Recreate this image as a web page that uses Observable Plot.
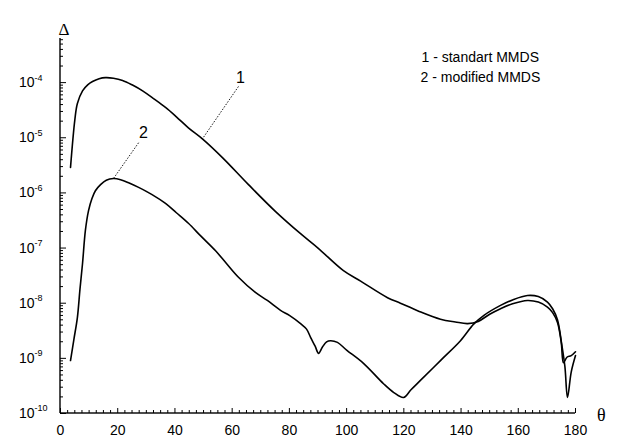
<!DOCTYPE html>
<html>
<head>
<meta charset="utf-8">
<script src="https://cdn.jsdelivr.net/npm/d3@7"></script>
<script src="https://cdn.jsdelivr.net/npm/@observablehq/plot@0.6"></script>
<style>
  html, body { margin: 0; padding: 0; background: #fff; }
  #chart svg { display: block; }
</style>
</head>
<body>
<div id="chart"></div>
<script>
// Scattering angle θ (degrees) and log10 of the error Δ for each method.
const theta1 = [3.5, 5, 5.9, 7.7, 9.5, 11.2, 13.5, 15.7, 18.5, 21.7, 25, 28.7, 32.5, 36.7, 40.5, 44.7,
  49.6, 56.6, 65.7, 75, 83.9, 90, 98.9, 104.9, 114.3, 118.8, 125, 132.8, 138, 142.3, 146, 150, 153.8,
  158, 163.2, 167, 170.2, 172, 173.7, 175, 175.8, 177, 178.5, 180];
const logDelta1 = [-5.54, -4.68, -4.38, -4.15, -4.04, -3.98, -3.93, -3.91, -3.92, -3.96, -4.04, -4.15,
  -4.29, -4.45, -4.62, -4.82, -5.02, -5.36, -5.85, -6.33, -6.74, -7.0, -7.41, -7.6, -7.9, -8.0, -8.14,
  -8.29, -8.34, -8.37, -8.33, -8.2, -8.1, -8.01, -7.95, -7.98, -8.07, -8.17, -8.35, -8.7, -9.08, -8.98,
  -8.95, -8.88];

const theta2 = [3.5, 4.7, 5.9, 6.8, 7.7, 8.7, 9.8, 11, 12.2, 14, 16, 18.5, 21, 24, 27.3, 32, 36.7, 40.5,
  44.7, 49, 54.2, 58, 62.2, 68, 72.3, 76.9, 80, 83.9, 86, 87.4, 89, 90.2, 91.5, 93, 94.4, 96.8, 100,
  105.9, 112.9, 116.5, 119.9, 122.5, 125.8, 132.8, 139.8, 144.4, 148, 153.8, 158, 163.2, 167, 170.2,
  172, 173.7, 175.2, 176.3, 177.2, 178.5, 180];
const logDelta2 = [-9.04, -8.65, -8.26, -7.75, -7.28, -6.68, -6.32, -6.1, -5.96, -5.85, -5.77, -5.74,
  -5.76, -5.82, -5.9, -6.03, -6.19, -6.36, -6.55, -6.78, -7.05, -7.28, -7.53, -7.8, -7.95, -8.13, -8.22,
  -8.37, -8.47, -8.62, -8.78, -8.91, -8.8, -8.7, -8.68, -8.71, -8.85, -9.09, -9.46, -9.62, -9.71, -9.57,
  -9.4, -9.04, -8.68, -8.38, -8.22, -8.04, -7.94, -7.86, -7.88, -7.98, -8.1, -8.3, -8.75, -9.15, -9.71,
  -9.25, -8.95];

// Axis ticks
const xTicks = [0, 20, 40, 60, 80, 100, 120, 140, 160, 180];
const yExponents = [-4, -5, -6, -7, -8, -9, -10];

// Curve labels with their leader lines (θ, log10 Δ)
const curveLabels = ["1", "2"];
const labelTheta = [62.9, 29];
const labelLog = [-3.91, -4.91];
const leaderFromTheta = [62.2, 27.3];
const leaderFromLog = [-4.07, -5.09];
const leaderToTheta = [49.6, 18.5];
const leaderToLog = [-5.02, -5.74];

const legendLines = ["1 - standart MMDS", "2 - modified MMDS"];

const series1 = theta1.map((t, i) => ({theta: t, delta: 10 ** logDelta1[i]}));
const series2 = theta2.map((t, i) => ({theta: t, delta: 10 ** logDelta2[i]}));
const labels = curveLabels.map((s, i) => ({text: s, theta: labelTheta[i], delta: 10 ** labelLog[i]}));
const leaders = curveLabels.map((s, i) => ({
  x1: leaderFromTheta[i], y1: 10 ** leaderFromLog[i],
  x2: leaderToTheta[i], y2: 10 ** leaderToLog[i]
}));
const decades = yExponents.map(e => ({e, v: 10 ** e}));

const yMin = 1e-10, yMax = 10 ** -3.2;
const font = "'Liberation Sans', Arial, sans-serif";

// minor tick positions
const xMinor = d3.range(0, 180.01, 2.5).filter(v => v % 20 !== 0);
const yMinor = [];
for (let e = -10; e <= -4; e++) for (let m = 2; m <= 9; m++) if (m * 10 ** e < yMax) yMinor.push(m * 10 ** e);
const yMajor = decades.map(d => d.v);

const chart = Plot.plot({
  width: 619,
  height: 439,
  marginLeft: 60,
  marginRight: 44,
  marginTop: 38,
  marginBottom: 26,
  style: {background: "#fff", fontFamily: font},
  x: {domain: [0, 180], axis: null},
  y: {type: "log", domain: [yMin, yMax], axis: null},
  marks: [
    // axis lines as thin filled bars
    Plot.rect([0], {x1: 0, x2: 0, y1: yMin, y2: yMax, insetLeft: -0.7, insetRight: -0.7, fill: "#000"}),
    Plot.rect([0], {x1: 0, x2: 180, y1: yMin, y2: yMin, insetTop: -0.7, insetBottom: -0.7, fill: "#000"}),
    // ticks pointing into the plot area
    Plot.axisX(xMinor, {anchor: "bottom", tickSize: 3, dy: -3, tickFormat: () => "", label: null, stroke: "#000"}),
    Plot.axisX(xTicks, {anchor: "bottom", tickSize: 5, dy: -5, tickFormat: () => "", label: null, stroke: "#000"}),
    Plot.axisY(yMinor, {anchor: "left", tickSize: 3, dx: 3, tickFormat: () => "", label: null, stroke: "#000"}),
    Plot.axisY(yMajor, {anchor: "left", tickSize: 6, dx: 6, tickFormat: () => "", label: null, stroke: "#000"}),
    // y tick labels: "10" with a raised exponent
    Plot.text(decades, {x: 0, y: "v", text: () => "10", textAnchor: "end", dx: -26, fontSize: 14, fill: "#000"}),
    Plot.text(decades, {x: 0, y: "v", text: d => String(d.e), textAnchor: "start", dx: -26, dy: -5, fontSize: 9, fill: "#000"}),
    // x tick labels
    Plot.text(xTicks, {x: d => d, y: () => yMin, text: d => String(d), dy: 17, fontSize: 14, fill: "#000"}),
    // axis symbols
    Plot.text(["Δ"], {frameAnchor: "top-left", dx: -2, dy: -16, fontSize: 17, fontFamily: "'Liberation Serif', serif", fill: "#000"}),
    Plot.text(["θ"], {frameAnchor: "bottom-right", dx: 30, dy: 7, fontSize: 18, fontFamily: "'Liberation Serif', serif", fill: "#000"}),
    // legend
    Plot.text([legendLines[0]], {frameAnchor: "top-left", textAnchor: "start", dx: 361, dy: 14, fontSize: 14, fill: "#000"}),
    Plot.text([legendLines[1]], {frameAnchor: "top-left", textAnchor: "start", dx: 360, dy: 34, fontSize: 14, fill: "#000"}),
    // curve labels and leaders
    Plot.link(leaders, {x1: "x1", y1: "y1", x2: "x2", y2: "y2", stroke: "#000", strokeWidth: 0.9, strokeDasharray: "1.5,1.5"}),
    Plot.text(labels, {x: "theta", y: "delta", text: "text", fontSize: 16, fill: "#000"}),
    // curves
    Plot.line(series1, {x: "theta", y: "delta", stroke: "#000", strokeWidth: 1.6, curve: "catmull-rom"}),
    Plot.line(series2, {x: "theta", y: "delta", stroke: "#000", strokeWidth: 1.6, curve: "catmull-rom"})
  ]
});

document.getElementById("chart").append(chart);
</script>
</body>
</html>
